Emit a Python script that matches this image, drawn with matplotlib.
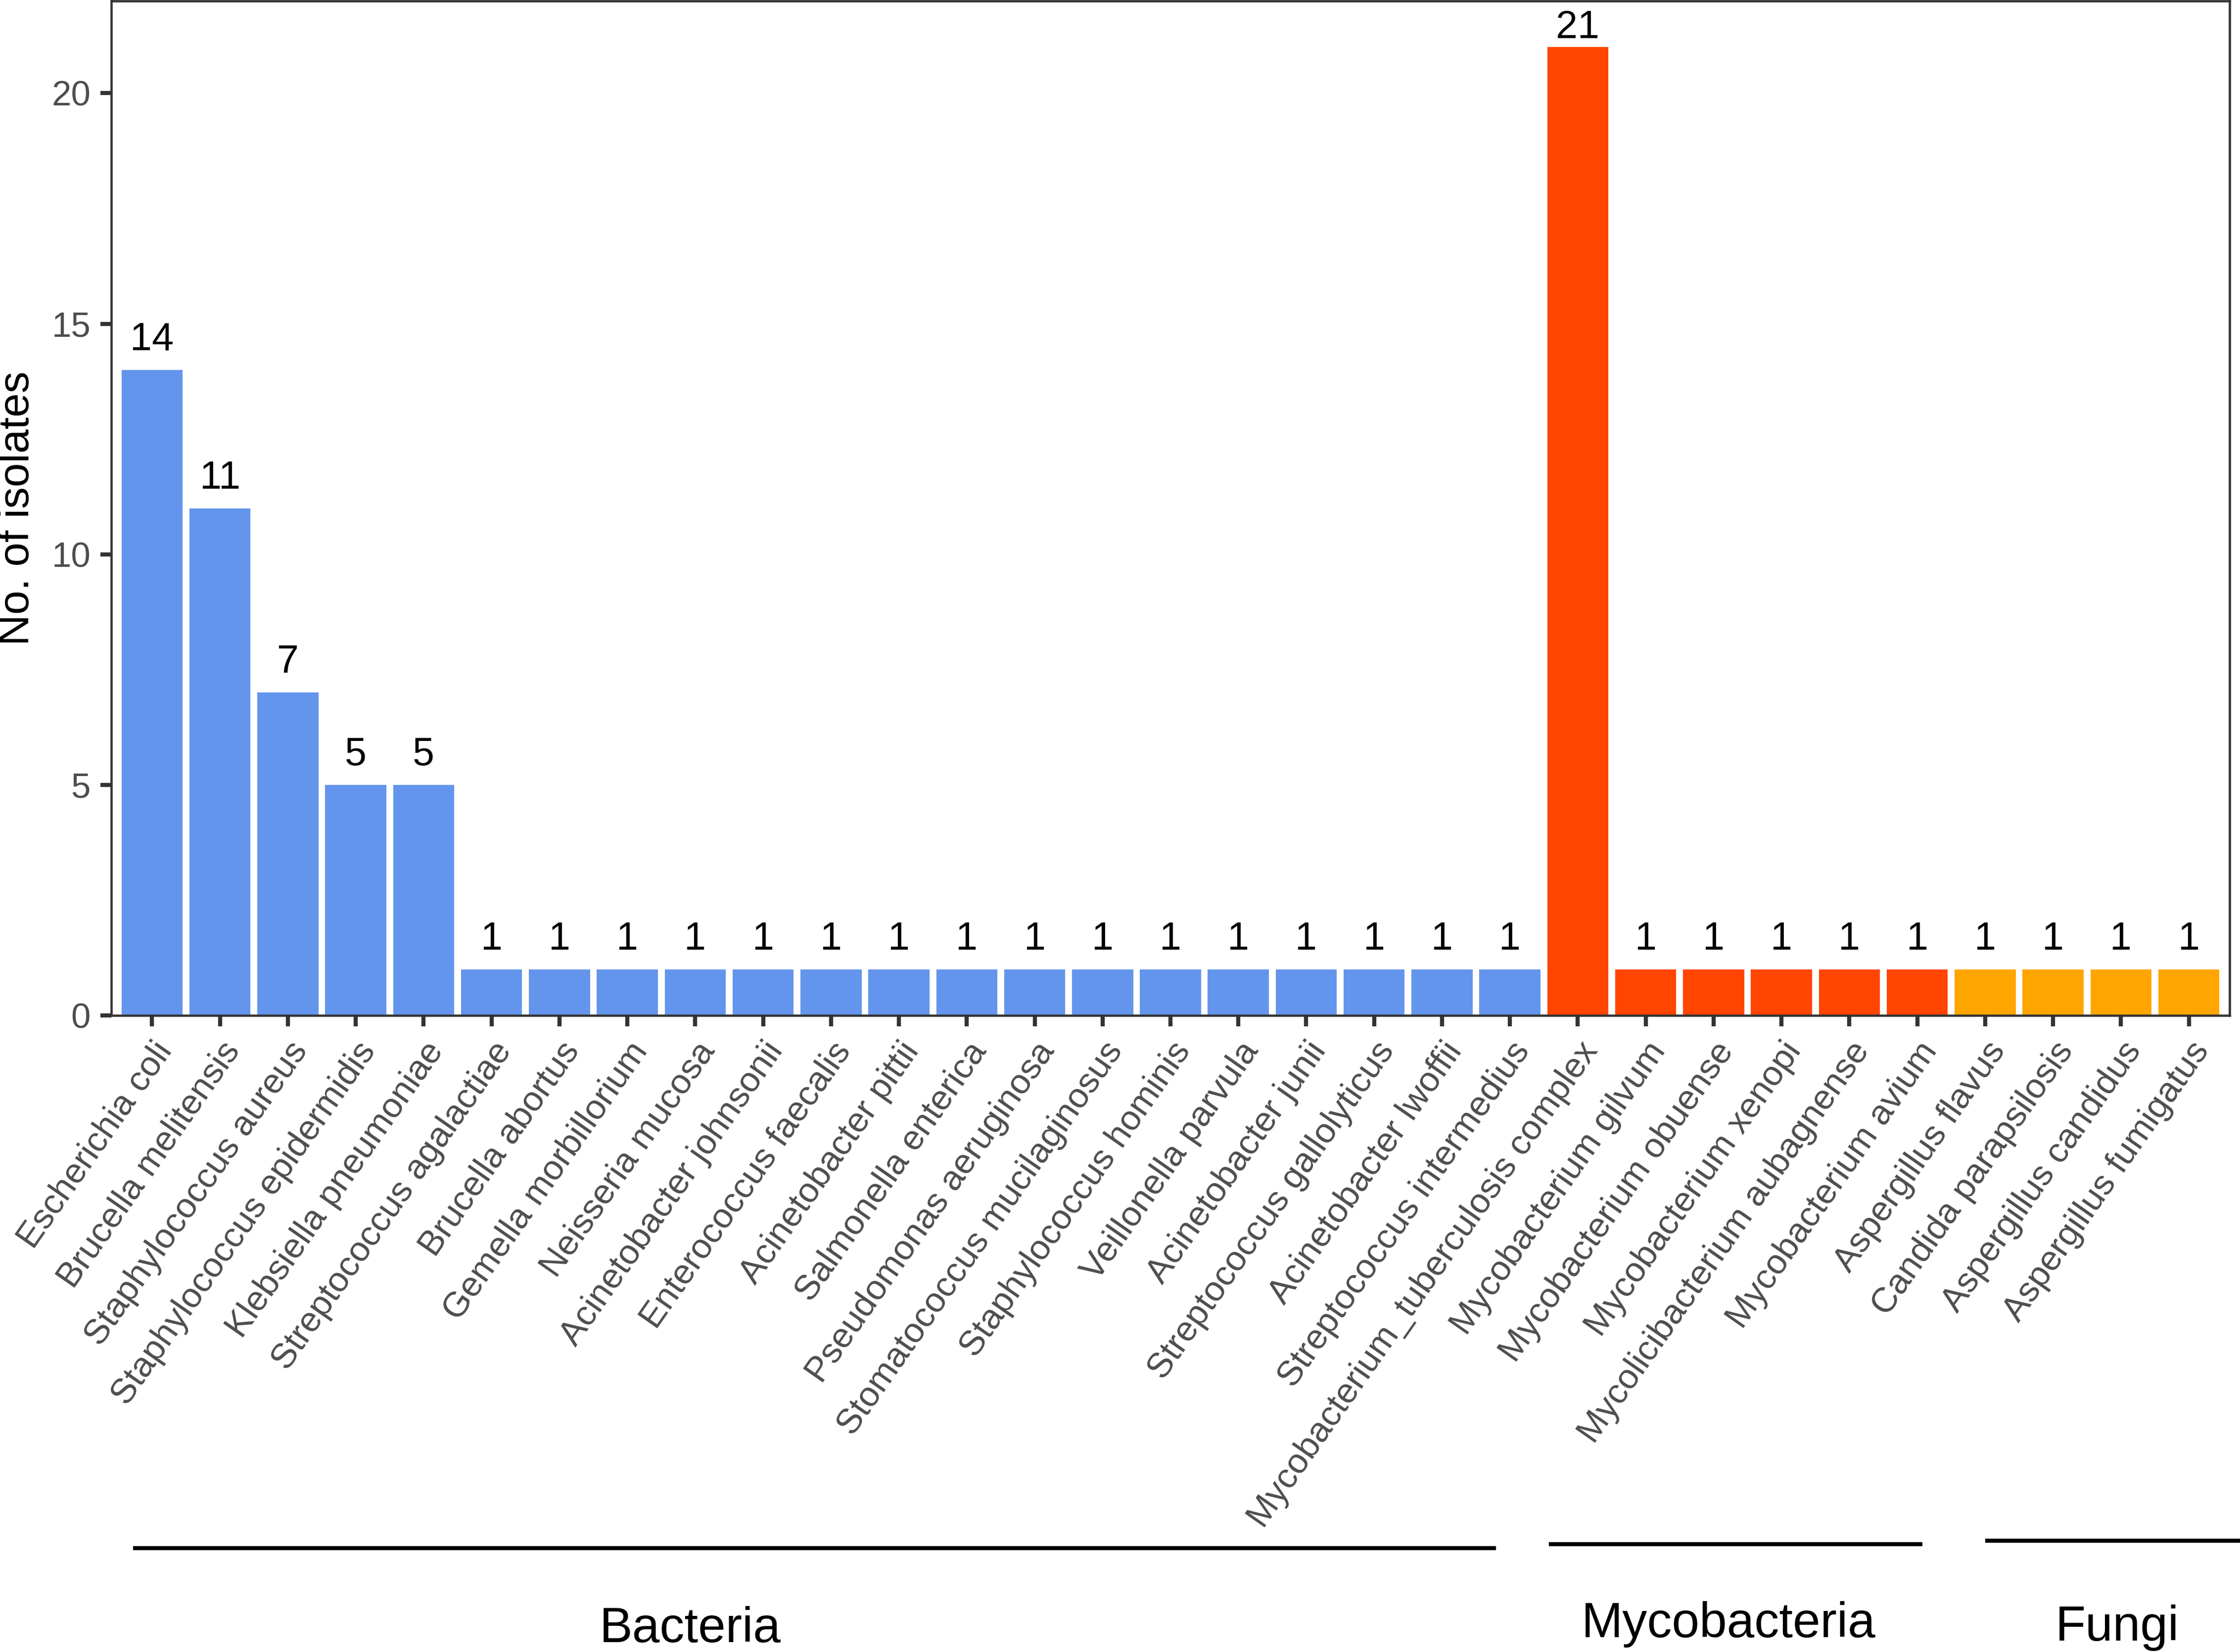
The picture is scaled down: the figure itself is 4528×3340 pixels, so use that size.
import matplotlib
matplotlib.use("Agg")
import matplotlib.pyplot as plt
from matplotlib.lines import Line2D

plt.rcParams['font.family'] = ['Liberation Sans', 'DejaVu Sans']

# ---------------- data ----------------
bacteria = ["Escherichia coli", "Brucella melitensis", "Staphylococcus aureus",
            "Staphylococcus epidermidis", "Klebsiella pneumoniae", "Streptococcus agalactiae",
            "Brucella abortus", "Gemella morbillorium", "Neisseria mucosa",
            "Acinetobacter johnsonii", "Enterococcus faecalis", "Acinetobacter pittii",
            "Salmonella enterica", "Pseudomonas aeruginosa", "Stomatococcus mucilaginosus",
            "Staphylococcus hominis", "Veillonella parvula", "Acinetobacter junii",
            "Streptococcus gallolyticus", "Acinetobacter lwoffii", "Streptococcus intermedius"]
bacteria_n = [14, 11, 7, 5, 5, 1, 1, 1, 1, 1, 1, 1, 1, 1, 1, 1, 1, 1, 1, 1, 1]

mycobacteria = ["Mycobacterium_tuberculosis complex", "Mycobacterium gilvum",
                "Mycobacterium obuense", "Mycobacterium xenopi",
                "Mycolicibacterium aubagnense", "Mycobacterium avium"]
mycobacteria_n = [21, 1, 1, 1, 1, 1]

fungi = ["Aspergillus flavus", "Candida parapsilosis", "Aspergillus candidus",
         "Aspergillus fumigatus"]
fungi_n = [1, 1, 1, 1]

group_names = ["Bacteria", "Mycobacteria", "Fungi"]
group_colors = ["#6495ED", "#FF4500", "#FFA500"]

# ---------------- figure ----------------
W, H = 4528, 3340
DPI = 300
fig = plt.figure(figsize=(W / DPI, H / DPI), dpi=DPI)

ax_l, ax_r, ax_t, ax_b = 225, 4507, 2, 2053
ax = fig.add_axes([ax_l / W, 1 - ax_b / H, (ax_r - ax_l) / W, (ax_b - ax_t) / H])

names = bacteria + mycobacteria + fungi
counts = bacteria_n + mycobacteria_n + fungi_n
colors = ([group_colors[0]] * len(bacteria) + [group_colors[1]] * len(mycobacteria)
          + [group_colors[2]] * len(fungi))
xs = list(range(len(names)))

ax.bar(xs, counts, width=0.9, color=colors, linewidth=0)

maxc = max(counts)
for x, c in zip(xs, counts):
    off = 4.3 if c == maxc else 9.6
    ax.annotate(str(c), xy=(x, c), xytext=(0, off), textcoords='offset points',
                ha='center', va='baseline', fontsize=19, color='black')

ax.set_xlim(-0.6, len(names) - 1 + 0.6)
ax.set_ylim(0, 22)
ax.set_yticks([0, 5, 10, 15, 20])
ax.set_yticklabels(["0", "5", "10", "15", "20"], fontsize=17, color='#4D4D4D')
ax.set_xticks(xs)
ax.set_xticklabels(names, rotation=55, ha='right', va='top', rotation_mode='anchor',
                   fontsize=17, color='#4D4D4D')

ax.tick_params(axis='both', length=5.3, width=2.0, color='#333333', pad=4.8)
for s in ax.spines.values():
    s.set_linewidth(1.1)
    s.set_color('#333333')

fig.text(36 / W, 1 - (ax_t + ax_b) / 2 / H, "No. of isolates", rotation=90,
         ha='center', va='center', fontsize=21, color='black')

# group brackets
lines_px = [(269, 3024, 3130), (3131, 3886, 3122), (4013, 4528, 3115)]
labels_px = [(1395, 3320), (3494, 3310), (4280, 3317)]
for (x0, x1, y), (lx, ly), name in zip(lines_px, labels_px, group_names):
    fig.add_artist(Line2D([x0 / W, x1 / W], [1 - y / H, 1 - y / H],
                          transform=fig.transFigure, color='black', linewidth=2.0,
                          solid_capstyle='butt'))
    fig.text(lx / W, 1 - ly / H, name, ha='center', va='baseline', fontsize=24,
             color='black')

fig.savefig("out.png", dpi=DPI)
